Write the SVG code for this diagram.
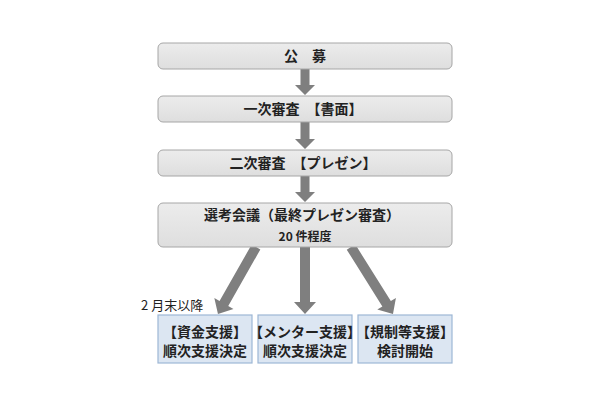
<svg xmlns="http://www.w3.org/2000/svg" width="610" height="400" viewBox="0 0 610 400">
<defs>
<linearGradient id="g" x1="0" y1="0" x2="0" y2="1">
<stop offset="0" stop-color="#ececec"/>
<stop offset="1" stop-color="#dedede"/>
</linearGradient>
<style>
.box{fill:url(#g);stroke:#a6a6a6;stroke-width:1}
.bbox{fill:#dce6f2;stroke:#9db7d5;stroke-width:1.2}
.arr{fill:#7f7f7f}
text{font-family:"Noto Sans CJK JP","Noto Sans",sans-serif;fill:#222;text-anchor:middle;font-weight:bold}
.t{font-size:14px}
.s{font-size:12px}
.n{font-size:13px;font-weight:normal;text-anchor:start}
</style>
</defs>
<rect width="610" height="400" fill="#fff"/>
<g id="connectors">
<polygon class="arr" points="300.5,69 309.5,69 309.5,85 315,85 305,95 295,85 300.5,85"/>
<polygon class="arr" points="300.5,122 309.5,122 309.5,139 315,139 305,149 295,139 300.5,139"/>
<polygon class="arr" points="300.5,176 309.5,176 309.5,192 315,192 305,202 295,192 300.5,192"/>
<polygon class="arr" points="300,247 310,247 310,302 316,302 305,314 294,302 300,302"/>
<polygon class="arr" transform="rotate(29.6 256 247)" points="251,247 261,247 261,312 267,312 256,324 245,312 251,312"/>
<polygon class="arr" transform="rotate(-32.1 351 247)" points="346,247 356,247 356,314 362,314 351,326 340,314 346,314"/>
</g>
<g id="n1"><rect class="box" x="158" y="43" width="294" height="26" rx="5"/><text class="t" x="305" y="61">公　募</text></g>
<g id="n2"><rect class="box" x="158" y="96" width="294" height="26" rx="5"/><text class="t" x="303" y="114">一次審査　【書面】</text></g>
<g id="n3"><rect class="box" x="158" y="150" width="294" height="26" rx="5"/><text class="t" x="303" y="168">二次審査　【プレゼン】</text></g>
<g id="n4"><rect class="box" x="158" y="203" width="294" height="44" rx="5"/><text class="t" x="302" y="220">選考会議（最終プレゼン審査）</text><text class="s" x="305" y="241">20 件程度</text></g>
<g id="note"><text class="n" x="141" y="310">2 月末以降</text></g>
<g id="b1"><rect class="bbox" x="158" y="315" width="94" height="48"/><text class="t" x="205" y="337">【資金支援】</text><text class="t" x="205" y="356">順次支援決定</text></g>
<g id="b2"><rect class="bbox" x="258" y="315" width="94" height="48"/><text class="t" x="305" y="337">【メンター支援】</text><text class="t" x="305" y="356">順次支援決定</text></g>
<g id="b3"><rect class="bbox" x="358" y="315" width="94" height="48"/><text class="t" x="405" y="337">【規制等支援】</text><text class="t" x="405" y="356">検討開始</text></g>
</svg>
